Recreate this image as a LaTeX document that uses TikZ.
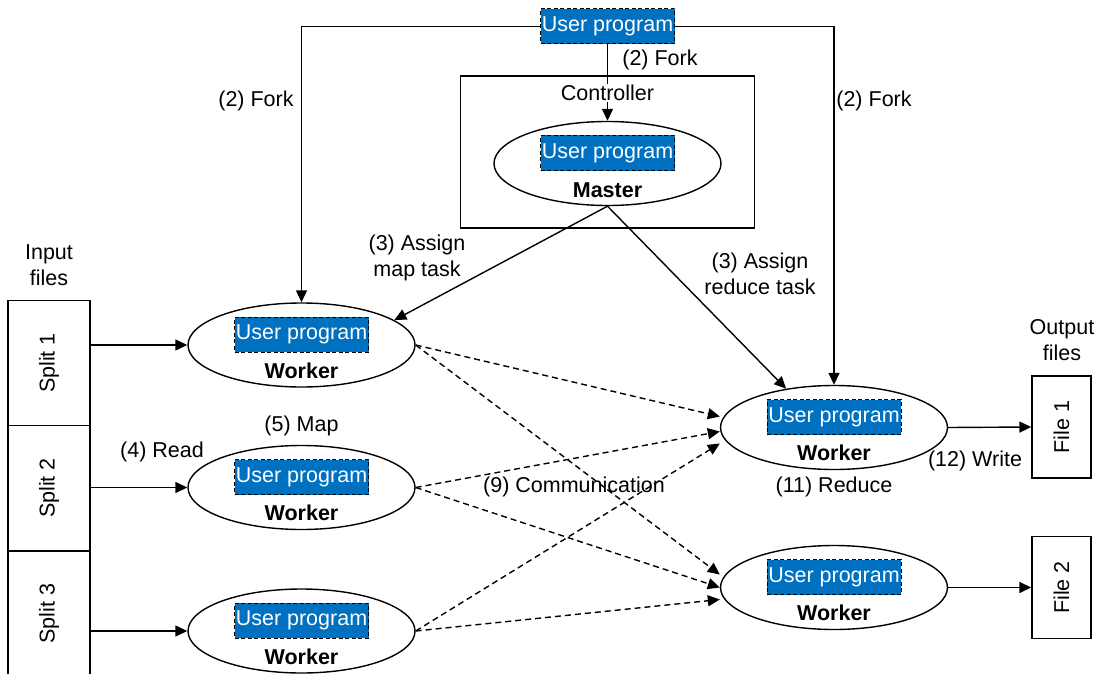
\documentclass[tikz,border=0pt]{standalone}
\usepackage{xcolor}
\usepackage{fontspec}
\setmainfont{Liberation Sans}
\usepackage{tikz}
\usetikzlibrary{calc,positioning,shapes.geometric,arrows.meta}
\definecolor{progblue}{HTML}{0070C0}
\tikzset{
  prog/.style={rectangle, fill=progblue, draw=black, dash pattern=on 4pt off 2.5pt, line width=1pt,
    text=white, inner xsep=1pt, inner ysep=0pt, minimum width=134pt, minimum height=35pt},
  proc/.style={ellipse, draw=black, line width=1.4pt, minimum width=227pt, minimum height=84pt, inner sep=0pt},
  role/.style={font=\fontsize{21.5}{26}\selectfont\bfseries},
  splitbox/.style={rectangle, draw=black, line width=1.4pt, minimum width=82pt, minimum height=125pt, inner sep=0pt},
  filebox/.style={rectangle, draw=black, line width=1.4pt, minimum width=59pt, minimum height=102pt, inner sep=0pt},
  flow/.style={-{Triangle[length=12pt, width=11pt]}, line width=1.4pt},
  comm/.style={flow, dash pattern=on 6pt off 4pt},
}

\begin{document}
\begin{tikzpicture}[x=1pt, y=-1pt, font=\fontsize{21.5}{26}\selectfont]
  \useasboundingbox (0,0) rectangle (1100,674);

  % Top: user program
  \node[prog] (userprog) at (607.5,26.5) {User program};

  % Controller with master
  \node[rectangle, draw=black, line width=1.4pt, minimum width=293.5pt, minimum height=152pt, inner sep=0pt] (controller) at (607.5,152) {};
  \node[proc] (master) at (607.5,163.5) {};
  \node[prog] (masterprog) at ([yshift=10.5pt]master.center) {User program};
  \node[role] (masterlbl) at ([yshift=-26.5pt]master.center) {Master};

  % Input splits
  \node[splitbox] (split1) at (49,363) {};
  \node[splitbox] (split2) at (49,488) {};
  \node[splitbox] (split3) at (49,613.5) {};
  \node[rotate=90] (split1lbl) at (split1.center) {Split 1};
  \node[rotate=90] (split2lbl) at (split2.center) {Split 2};
  \node[rotate=90] (split3lbl) at (split3.center) {Split 3};
  \node[align=center] (inputlbl) at (49,265) {Input\\files};

  % Map workers
  \node[proc] (map1) at (301.5,345) {};
  \node[prog] (map1prog) at ([yshift=10.5pt]map1.center) {User program};
  \node[role] (map1lbl) at ([yshift=-25.5pt]map1.center) {Worker};
  \node[proc] (map2) at (301.5,487.5) {};
  \node[prog] (map2prog) at ([yshift=10.5pt]map2.center) {User program};
  \node[role] (map2lbl) at ([yshift=-25.5pt]map2.center) {Worker};
  \node[proc] (map3) at (301.5,631) {};
  \node[prog] (map3prog) at ([yshift=10.5pt]map3.center) {User program};
  \node[role] (map3lbl) at ([yshift=-25.5pt]map3.center) {Worker};

  % Reduce workers
  \node[proc] (reduce1) at (834,427.5) {};
  \node[prog] (reduce1prog) at ([yshift=10.5pt]reduce1.center) {User program};
  \node[role] (reduce1lbl) at ([yshift=-25.5pt]reduce1.center) {Worker};
  \node[proc] (reduce2) at (834,587.5) {};
  \node[prog] (reduce2prog) at ([yshift=10.5pt]reduce2.center) {User program};
  \node[role] (reduce2lbl) at ([yshift=-25.5pt]reduce2.center) {Worker};

  % Output files
  \node[filebox] (file1) at (1061.5,427) {};
  \node[filebox] (file2) at (1061.5,587.5) {};
  \node[rotate=90] (file1lbl) at (file1.center) {File 1};
  \node[rotate=90] (file2lbl) at (file2.center) {File 2};
  \node[align=center] (outputlbl) at (1062,340) {Output\\files};

  % Fork
  \draw[flow] (userprog.west) -| (map1.north);
  \draw[flow] (userprog.east) -| (reduce1.north);
  \draw[flow] (userprog.south) -- (master.north);
  \node[fill=white, inner sep=1pt] (controllerlbl) at (607.5,93) {Controller};
  \node (forkleft) at (256,101) {(2) Fork};
  \node (forkmid) at (660,60) {(2) Fork};
  \node (forkright) at (874,101) {(2) Fork};

  % Assign
  \draw[flow] (master.south) -- (map1.15);
  \draw[flow] (master.south) -- (reduce1.141);
  \node[align=center] (assignmap) at (417,258) {(3) Assign\\map task};
  \node[align=center] (assignreduce) at (760,274) {(3) Assign\\reduce task};

  % Read and write
  \draw[flow] (map1.west -| split1.east) -- (map1.west);
  \draw[flow] (map2.west -| split2.east) -- (map2.west);
  \draw[flow] (map3.west -| split3.east) -- (map3.west);
  \draw[flow] (reduce1.east) -- (file1.west);
  \draw[flow] (reduce2.east) -- (file2.west);
  \node (readlbl) at (162,452) {(4) Read};
  \node (maplbl) at (301.5,426) {(5) Map};
  \node (reducelbl) at (834,487) {(11) Reduce};
  \node (writelbl) at (975,461) {(12) Write};

  % Communication
  \draw[comm] (map1.east) -- ([yshift=11pt]reduce1.west);
  \draw[comm] (map2.east) -- ([yshift=-4pt]reduce1.west);
  \draw[comm] (map3.east) -- ([yshift=-16pt]reduce1.west);
  \draw[comm] (map1.east) -- ([yshift=13pt]reduce2.west);
  \draw[comm] (map2.east) -- (reduce2.west);
  \draw[comm] (map3.east) -- ([yshift=-12pt]reduce2.west);
  \node (commlbl) at (574,487) {(9) Communication};

\end{tikzpicture}
\end{document}
